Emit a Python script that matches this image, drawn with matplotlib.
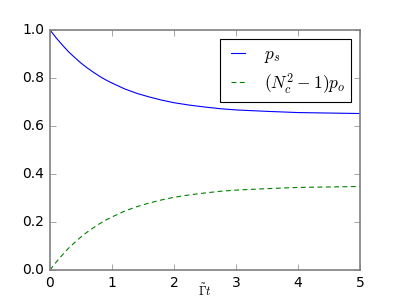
import matplotlib
matplotlib.use('Agg')
import matplotlib.pyplot as plt

# values
t = [0.0, 0.1, 0.2, 0.3, 0.4, 0.5, 0.6, 0.7, 0.8, 0.9, 1.0, 1.2,
     1.4, 1.6, 1.8, 2.0, 2.25, 2.5, 2.75, 3.0, 3.5, 4.0, 4.5, 5.0]
p_s = [1.000, 0.967, 0.937, 0.909, 0.885, 0.862, 0.842, 0.824, 0.807, 0.792, 0.779, 0.755,
       0.736, 0.721, 0.708, 0.697, 0.687, 0.679, 0.672, 0.667, 0.661, 0.656, 0.654, 0.652]
p_o = [0.000, 0.033, 0.063, 0.091, 0.115, 0.138, 0.158, 0.176, 0.193, 0.208, 0.221, 0.245,
       0.264, 0.279, 0.292, 0.303, 0.313, 0.321, 0.328, 0.333, 0.339, 0.344, 0.346, 0.348]

plt.style.use('classic')
plt.rcParams['mathtext.fontset'] = 'cm'
plt.rcParams['font.size'] = 10

fig = plt.figure(figsize=(4, 3), dpi=100, facecolor='white')
ax = fig.add_axes([0.125, 0.1, 0.775, 0.8])
ax.plot(t, p_s, color='blue', linestyle='-', linewidth=0.8, label=r'$p_s$')
ax.plot(t, p_o, color='green', linestyle='--', dashes=(3.5, 2.5), linewidth=0.8,
        label=r'$(N_c^2-1)p_o$')
ax.set_xlim(0, 5)
ax.set_ylim(0, 1)
ax.set_xticks([0, 1, 2, 3, 4, 5])
ax.set_yticks([0.0, 0.2, 0.4, 0.6, 0.8, 1.0])
for sp in ax.spines.values():
    sp.set_color('0.5')
    sp.set_linewidth(1.2)
ax.tick_params(labelsize=10, color='0.5')
ax.set_xlabel(r'$\tilde{\Gamma}t$', fontsize=9)
ax.xaxis.set_label_coords(0.5, -0.055)
leg = ax.legend(loc='upper right', fontsize=12.5, fancybox=False, handlelength=1.4,
                labelspacing=0.35, borderpad=0.35, borderaxespad=0.5)
leg.get_frame().set_linewidth(0.8)

fig.savefig('out.png', dpi=100, facecolor='white')
